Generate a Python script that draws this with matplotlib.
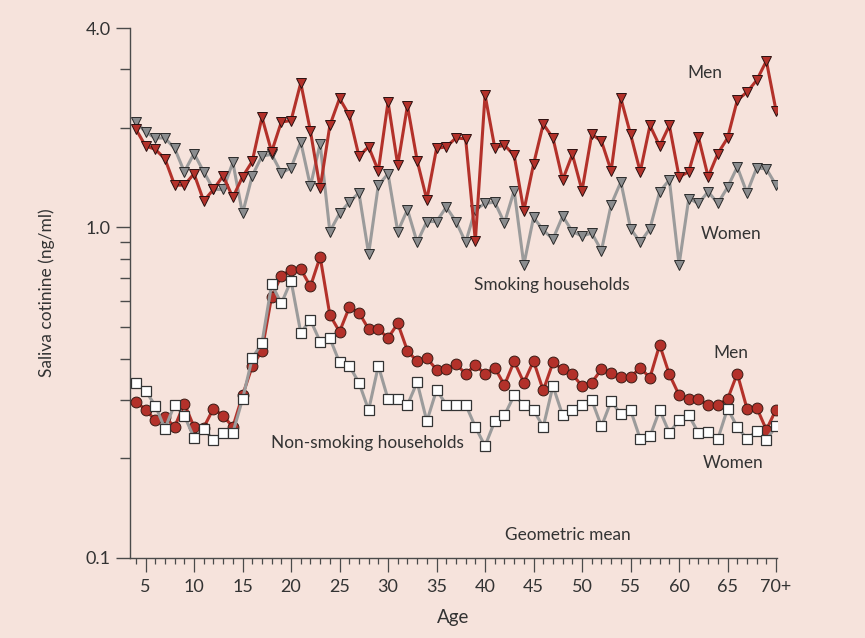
import numpy as np
import matplotlib
matplotlib.use('Agg')
import matplotlib.pyplot as plt
from matplotlib.ticker import FixedLocator, NullFormatter

# Ages 4..70 (70 = 70+)
ages = list(range(4, 71))

# Geometric mean saliva cotinine (ng/ml)
smoking_men = [
    1.98, 1.76, 1.72, 1.61, 1.34, 1.34, 1.45, 1.20, 1.30, 1.43,
    1.23, 1.42, 1.58, 2.15, 1.69, 2.08, 2.10, 2.73, 1.95, 1.31,
    2.03, 2.45, 2.18, 1.64, 1.75, 1.48, 2.39, 1.54, 2.33, 1.59,
    1.21, 1.73, 1.75, 1.86, 1.85, 0.91, 2.51, 1.74, 1.77, 1.65,
    1.12, 1.55, 2.05, 1.86, 1.39, 1.66, 1.29, 1.91, 1.82, 1.48,
    2.45, 1.91, 1.47, 2.03, 1.76, 2.03, 1.42, 1.47, 1.87, 1.42,
    1.67, 1.86, 2.42, 2.56, 2.78, 3.18, 2.25,
]
smoking_women = [
    2.08, 1.94, 1.86, 1.86, 1.73, 1.47, 1.67, 1.47, 1.30, 1.30,
    1.57, 1.10, 1.43, 1.64, 1.66, 1.46, 1.51, 1.81, 1.33, 1.79,
    0.97, 1.10, 1.19, 1.27, 0.83, 1.34, 1.45, 0.97, 1.13, 0.90,
    1.04, 1.04, 1.15, 1.04, 0.90, 1.13, 1.18, 1.19, 1.03, 1.29,
    0.77, 1.07, 0.98, 0.92, 1.08, 0.97, 0.94, 0.96, 0.85, 1.17,
    1.37, 0.99, 0.90, 0.99, 1.28, 1.39, 0.77, 1.22, 1.18, 1.28,
    1.18, 1.32, 1.52, 1.27, 1.51, 1.50, 1.34,
]
nonsmoking_men = [
    0.297, 0.281, 0.261, 0.267, 0.249, 0.293, 0.249, 0.248, 0.283, 0.269,
    0.249, 0.310, 0.380, 0.423, 0.617, 0.713, 0.744, 0.747, 0.662, 0.814,
    0.543, 0.483, 0.572, 0.552, 0.492, 0.492, 0.462, 0.512, 0.423, 0.393,
    0.402, 0.371, 0.372, 0.385, 0.361, 0.382, 0.361, 0.376, 0.333, 0.393,
    0.339, 0.394, 0.321, 0.390, 0.372, 0.359, 0.331, 0.339, 0.372, 0.363,
    0.353, 0.353, 0.375, 0.351, 0.441, 0.359, 0.311, 0.302, 0.302, 0.290,
    0.291, 0.302, 0.361, 0.283, 0.285, 0.244, 0.281,
]
nonsmoking_women = [
    0.339, 0.320, 0.289, 0.246, 0.291, 0.269, 0.231, 0.246, 0.227, 0.239,
    0.239, 0.302, 0.402, 0.446, 0.673, 0.588, 0.689, 0.480, 0.524, 0.451,
    0.462, 0.390, 0.381, 0.339, 0.280, 0.381, 0.302, 0.302, 0.290, 0.340,
    0.259, 0.322, 0.291, 0.291, 0.291, 0.249, 0.218, 0.259, 0.270, 0.310,
    0.291, 0.280, 0.249, 0.331, 0.270, 0.280, 0.291, 0.300, 0.250, 0.298,
    0.272, 0.280, 0.229, 0.233, 0.280, 0.239, 0.261, 0.270, 0.239, 0.241,
    0.229, 0.283, 0.249, 0.229, 0.242, 0.228, 0.250,
]

x_major = [5, 10, 15, 20, 25, 30, 35, 40, 45, 50, 55, 60, 65, 70]
x_labels = ['5', '10', '15', '20', '25', '30', '35', '40', '45', '50', '55', '60', '65', '70+']
y_major = [0.1, 1.0, 4.0]
y_labels = ['0.1', '1.0', '4.0']
y_minor = [0.2, 0.3, 0.4, 0.5, 0.6, 0.7, 0.8, 0.9, 2.0, 3.0]

BG = '#F6E3DC'
RED = '#B3312A'
GREY = '#9B9B9B'
TEXT = '#333333'

plt.rcParams['font.family'] = ['Lato', 'DejaVu Sans']

fig = plt.figure(figsize=(8.65, 6.38), dpi=100, facecolor=BG)
ax = fig.add_axes([0.1503, 0.1254, 0.748, 0.8307], facecolor=BG)

# smoking households: women first, men on top
ax.plot(ages, smoking_women, color=GREY, lw=2.2, marker='v', ms=7.8,
        mfc='#8A8C8E', mec='#2A2A2A', mew=0.7, zorder=3)
ax.plot(ages, smoking_men, color=RED, lw=2.2, marker='v', ms=7.8,
        mfc=RED, mec='#2A1010', mew=0.7, zorder=4)

# non-smoking households: men first, women (open squares) on top
ax.plot(ages, nonsmoking_men, color=RED, lw=2.2, marker='o', ms=7.8,
        mfc=RED, mec='#3A1A14', mew=0.7, zorder=3)
ax.plot(ages, nonsmoking_women, color=GREY, lw=2.2, marker='s', ms=7.2,
        mfc='white', mec='#333333', mew=0.9, zorder=4)

ax.set_yscale('log')
ax.set_ylim(0.1, 4.0)
ax.set_xlim(3.4, 70.1)

ax.yaxis.set_major_locator(FixedLocator(y_major))
ax.set_yticklabels(y_labels)
ax.yaxis.set_minor_locator(FixedLocator(y_minor))
ax.yaxis.set_minor_formatter(NullFormatter())

ax.xaxis.set_major_locator(FixedLocator(x_major))
ax.set_xticklabels(x_labels)
ax.xaxis.set_minor_locator(FixedLocator(ages))

for s in ['top', 'right']:
    ax.spines[s].set_visible(False)
for s in ['left', 'bottom']:
    ax.spines[s].set_color('#4A4A4A')
    ax.spines[s].set_linewidth(1.0)

ax.tick_params(axis='y', which='major', length=10, width=1.0, color='#4A4A4A',
               labelsize=13, labelcolor=TEXT, pad=4)
ax.tick_params(axis='y', which='minor', length=7, width=1.0, color='#4A4A4A')
ax.tick_params(axis='x', which='major', length=10, width=0.9, color='#4A4A4A',
               labelsize=13, labelcolor=TEXT, pad=5)
ax.tick_params(axis='x', which='minor', length=4.5, width=0.9, color='#4A4A4A')

ax.set_ylabel('Saliva cotinine (ng/ml)', fontsize=12.5, color=TEXT, labelpad=22)
ax.set_xlabel('Age', fontsize=13.5, color=TEXT, labelpad=10)

txt = dict(fontsize=12.4, color=TEXT, ha='center', va='center')
ax.text(62.7, 2.92, 'Men', **txt)
ax.text(65.4, 0.955, 'Women', **txt)
ax.text(46.9, 0.67, 'Smoking households', **txt)
ax.text(65.3, 0.417, 'Men', **txt)
ax.text(27.9, 0.223, 'Non-smoking households', **txt)
ax.text(65.6, 0.194, 'Women', **txt)
ax.text(48.5, 0.117, 'Geometric mean', **txt)

fig.savefig('out.png', dpi=100, facecolor=BG)
